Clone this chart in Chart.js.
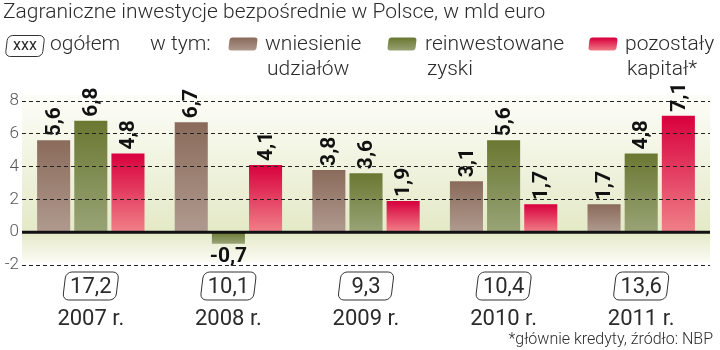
<!DOCTYPE html>
<html>
<head>
<meta charset="utf-8">
<script src="https://cdn.jsdelivr.net/npm/chart.js@4"></script>
<style>
    body { margin: 0; background: #fff; }
    canvas { display: block; }
</style>
</head>
<body>
<canvas id="fdiChart" width="720" height="350"></canvas>
<script>
const years = ['2007 r.', '2008 r.', '2009 r.', '2010 r.', '2011 r.'];
const udzialy = [5.6, 6.7, 3.8, 3.1, 1.7];
const zyski = [6.8, -0.7, 3.6, 5.6, 4.8];
const pozostaly = [4.8, 4.1, 1.9, 1.7, 7.1];
const yTicks = [-2, 0, 2, 4, 6, 8];

const FONT = "Roboto, 'Liberation Sans', sans-serif";
const TEXT = '#2b2b2b';

// top / bottom colours of each series
const palette = {
    brown: ['#8a6b5b', '#b09a8f'],
    green: ['#6a7832', '#98a476'],
    red: ['#d8003d', '#f08088']
};

const fmt = v => v.toFixed(1).replace('.', ',');

function barGradient(colors) {
    return function (ctx) {
        const chart = ctx.chart;
        const y = chart.scales.y;
        if (!chart.chartArea || !y || ctx.raw === undefined) return colors[0];
        const top = y.getPixelForValue(Math.max(ctx.raw, 0));
        const bottom = y.getPixelForValue(Math.min(ctx.raw, 0));
        const g = chart.ctx.createLinearGradient(0, top, 0, bottom);
        g.addColorStop(0, colors[0]);
        g.addColorStop(1, colors[1]);
        return g;
    };
}

function skewedBox(c, cx, cy, w, h, r) {
    c.save();
    c.translate(cx, cy);
    c.transform(1, 0, -0.12, 1, 0, 0);
    c.beginPath();
    c.roundRect(-w / 2, -h / 2, w, h, r);
    c.restore();
}

const decorations = {
    id: 'decorations',
    beforeDatasetsDraw(chart) {
        const { ctx, chartArea, scales: { y } } = chart;
        const top = chartArea.top - 6, bottom = chartArea.bottom - 3;
        const g = ctx.createLinearGradient(0, top, 0, bottom);
        g.addColorStop(0, '#fdfdf8');
        g.addColorStop((y.getPixelForValue(0) - top) / (bottom - top), '#e4e9c6');
        g.addColorStop(1, '#fbfbf4');
        ctx.save();
        ctx.fillStyle = g;
        ctx.fillRect(chartArea.left, top, chartArea.right - chartArea.left, bottom - top);
        ctx.restore();
    },
    afterDatasetsDraw(chart) {
        const { ctx, chartArea, scales: { x, y } } = chart;
        ctx.save();

        // value labels
        ctx.fillStyle = '#111';
        ctx.font = 'bold 21px ' + FONT;
        chart.data.datasets.forEach((ds, i) => {
            chart.getDatasetMeta(i).data.forEach((bar, j) => {
                const v = ds.data[j];
                if (v >= 0) {
                    ctx.save();
                    ctx.translate(bar.x, bar.y - 4);
                    ctx.rotate(-Math.PI / 2);
                    ctx.textAlign = 'left';
                    ctx.textBaseline = 'middle';
                    ctx.fillText(fmt(v), 0, 1);
                    ctx.restore();
                } else {
                    ctx.textAlign = 'center';
                    ctx.textBaseline = 'top';
                    ctx.fillText(fmt(v), bar.x, bar.y + 3);
                }
            });
        });

        // totals and years under each group
        ctx.strokeStyle = '#333';
        ctx.lineWidth = 1;
        years.forEach((label, j) => {
            const cx = x.getPixelForValue(j);
            const total = udzialy[j] + zyski[j] + pozostaly[j];
            skewedBox(ctx, cx, 286, 53, 28, 6);
            ctx.stroke();
            ctx.fillStyle = TEXT;
            ctx.textAlign = 'center';
            ctx.textBaseline = 'middle';
            ctx.font = '22px ' + FONT;
            ctx.fillText(fmt(total), cx, 287);
            ctx.fillText(label, cx, 319);
        });
        ctx.restore();
    },
    afterDraw(chart) {
        const { ctx, chartArea, scales: { y } } = chart;
        ctx.save();

        // zero line over the dashed grid
        const y0 = y.getPixelForValue(0);
        ctx.strokeStyle = '#111';
        ctx.lineWidth = 3;
        ctx.beginPath();
        ctx.moveTo(chartArea.left, y0);
        ctx.lineTo(chartArea.right, y0);
        ctx.stroke();

        ctx.fillStyle = TEXT;
        ctx.textBaseline = 'middle';
        ctx.textAlign = 'left';
        ctx.font = '300 21px ' + FONT;
        ctx.fillText('Zagraniczne inwestycje bezpośrednie w Polsce, w mld euro', 3, 13);

        // legend
        ctx.strokeStyle = '#333';
        ctx.lineWidth = 1;
        skewedBox(ctx, 25, 46, 37, 21, 5);
        ctx.stroke();
        ctx.font = '16px ' + FONT;
        ctx.textAlign = 'center';
        ctx.fillText('xxx', 25, 46);
        ctx.textAlign = 'left';
        ctx.font = '300 21px ' + FONT;
        ctx.fillText('ogółem', 50, 45);
        ctx.fillText('w tym:', 150, 45);

        const items = [
            [palette.brown, 243, ['wniesienie', 'udziałów'], 265],
            [palette.green, 402, ['reinwestowane', 'zyski'], 425],
            [palette.red, 603, ['pozostały', 'kapitał*'], 625]
        ];
        items.forEach(([colors, sx, lines, tx]) => {
            const g = ctx.createLinearGradient(0, 38, 0, 51);
            g.addColorStop(0, colors[0]);
            g.addColorStop(1, colors[1]);
            ctx.fillStyle = g;
            skewedBox(ctx, sx, 44, 28, 13, 3);
            ctx.fill();
            ctx.fillStyle = TEXT;
            ctx.fillText(lines[0], tx, 45);
            ctx.fillText(lines[1], tx + 2, 70);
        });

        ctx.font = '300 16px ' + FONT;
        ctx.textAlign = 'right';
        ctx.fillText('*głównie kredyty, źródło: NBP', 713, 340);
        ctx.restore();
    }
};

new Chart(document.getElementById('fdiChart'), {
    type: 'bar',
    data: {
        labels: years,
        datasets: [{
            label: 'wniesienie udziałów',
            data: udzialy,
            backgroundColor: barGradient(palette.brown)
        }, {
            label: 'reinwestowane zyski',
            data: zyski,
            backgroundColor: barGradient(palette.green)
        }, {
            label: 'pozostały kapitał*',
            data: pozostaly,
            backgroundColor: barGradient(palette.red)
        }]
    },
    options: {
        responsive: false,
        animation: false,
        categoryPercentage: 0.81,
        barPercentage: 0.89,
        layout: {
            padding: { top: 101, bottom: 85, left: 0, right: 10 }
        },
        plugins: {
            legend: { display: false },
            tooltip: { enabled: false }
        },
        scales: {
            x: { display: false },
            y: {
                min: -2,
                max: 8,
                afterBuildTicks: scale => {
                    scale.ticks = yTicks.map(v => ({ value: v }));
                },
                afterFit: scale => {
                    scale.width = 22;
                },
                ticks: {
                    color: '#555',
                    padding: 3,
                    font: { family: FONT, size: 17, weight: '300' }
                },
                grid: {
                    z: 1,
                    color: '#222',
                    lineWidth: 1,
                    drawTicks: false
                },
                border: { display: false, dash: [4, 3] }
            }
        }
    },
    plugins: [decorations]
});
</script>
</body>
</html>
